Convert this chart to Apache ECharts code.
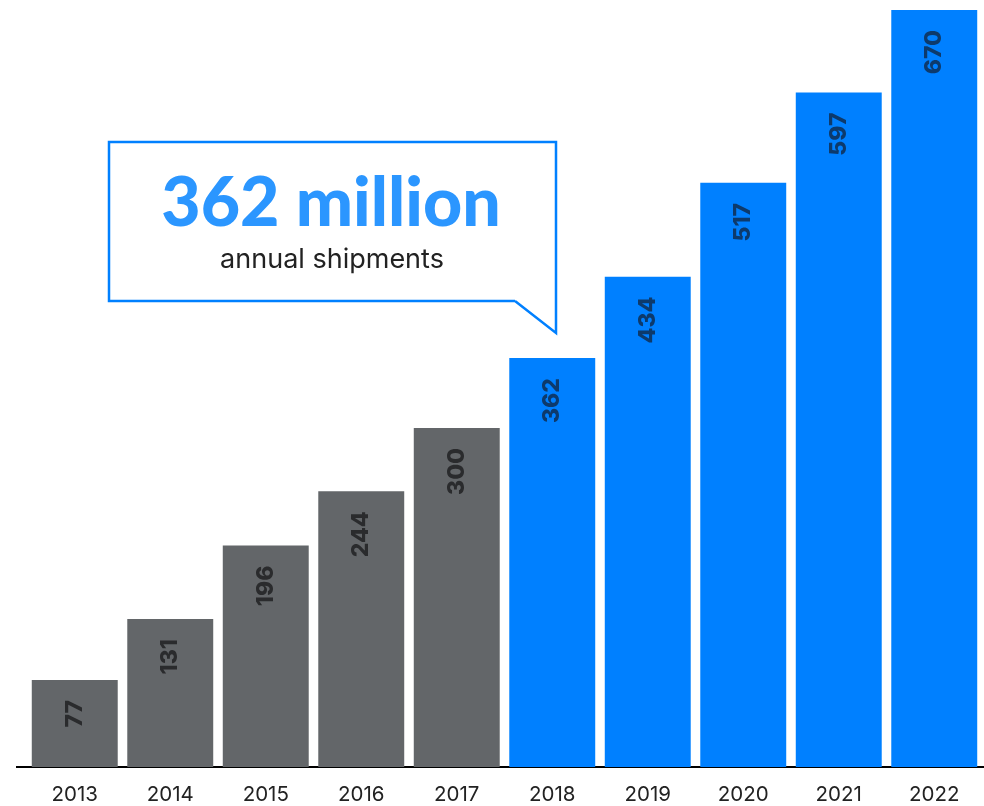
<!DOCTYPE html>
<html>
<head>
<meta charset="utf-8">
<script src="https://cdn.jsdelivr.net/npm/echarts@6/dist/echarts.min.js"></script>
<style>html,body{margin:0;padding:0;background:#fff}#c{width:984px;height:806px}</style>
</head>
<body>
<div id="c"></div>
<script>
const years = ['2013','2014','2015','2016','2017','2018','2019','2020','2021','2022'];
const shipments = [77, 131, 196, 244, 300, 362, 434, 517, 597, 670];
const highlightFrom = '2018';
const calloutTitle = '362 million';
const calloutSub = 'annual shipments';

const GREY = '#636669', BLUE = '#0080ff';
const hiIdx = years.indexOf(highlightFrom);
const chart = echarts.init(document.getElementById('c'));
chart.setOption({
  animation: false,
  grid: { left: 27, right: 2, top: 10, bottom: 39 },
  xAxis: {
    type: 'category', data: years,
    axisLine: { show: false }, axisTick: { show: false },
    axisLabel: { color: '#222', fontSize: 20.5, fontFamily: 'Inter', margin: 17 }
  },
  yAxis: { type: 'value', min: 0, max: 670, show: false, splitLine: { show: false } },
  series: [{
    type: 'bar', barCategoryGap: '10%',
    data: shipments.map((v, i) => ({
      value: v,
      itemStyle: { color: i >= hiIdx ? BLUE : GREY },
      label: { color: i >= hiIdx ? '#0d3a6c' : '#2a2b2d' }
    })),
    label: {
      show: true, position: 'insideTop', rotate: 90, align: 'right', verticalAlign: 'middle',
      distance: 20, fontSize: 23, fontWeight: 800, fontFamily: 'Inter'
    }
  }],
  graphic: [
    { type: 'line', shape: { x1: 16, y1: 767, x2: 984, y2: 767 }, style: { stroke: '#000', lineWidth: 2 } },
    { type: 'polyline', shape: { points: [[515,301],[556,333],[556,142],[109,142],[109,301],[515,301]] },
      style: { stroke: BLUE, lineWidth: 2.5, fill: '#fff' } },
    { type: 'text', x: 331, y: 204, style: { text: calloutTitle, fill: '#2b96ff', font: '900 68px Lato', align: 'center', verticalAlign: 'middle' } },
    { type: 'text', x: 332, y: 260, style: { text: calloutSub, fill: '#222', font: '27px Inter', align: 'center', verticalAlign: 'middle' } }
  ]
});
</script>
</body>
</html>
